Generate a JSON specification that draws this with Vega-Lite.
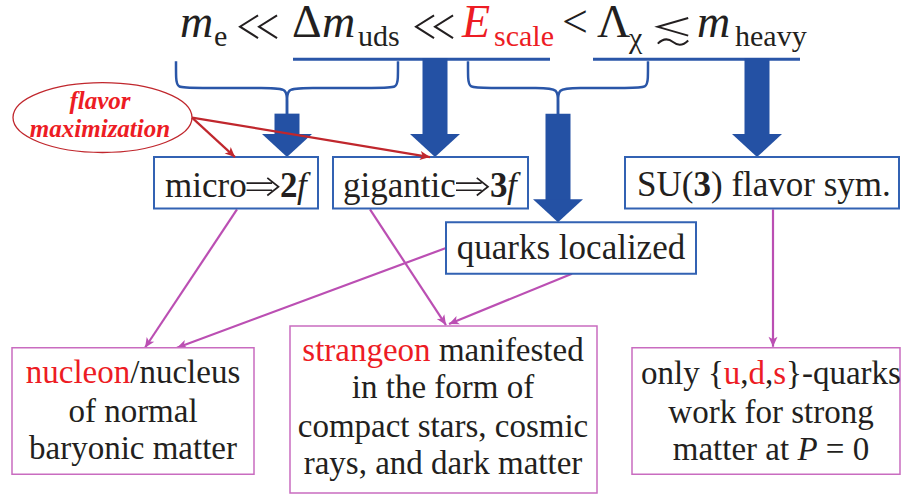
{
  "$schema": "https://vega.github.io/schema/vega-lite/v6.json",
  "width": 901,
  "height": 494,
  "autosize": {"type": "fit", "contains": "padding"},
  "padding": 0,
  "background": "white",
  "config": {"view": {"stroke": null}},
  "data": {"values": [
    {"g": "brace", "id": "b1L", "o": 1, "x": 176, "y": 60}, {"g": "brace", "id": "b1L", "o": 2, "x": 176, "y": 78}, {"g": "brace", "id": "b1L", "o": 3, "x": 177, "y": 87}, {"g": "brace", "id": "b1L", "o": 4, "x": 192, "y": 87}, {"g": "brace", "id": "b1L", "o": 5, "x": 272, "y": 87}, {"g": "brace", "id": "b1L", "o": 6, "x": 287, "y": 88}, {"g": "brace", "id": "b1L", "o": 7, "x": 287, "y": 100}, {"g": "brace", "id": "b1L", "o": 8, "x": 287, "y": 114},
    {"g": "brace", "id": "b1R", "o": 1, "x": 398, "y": 60}, {"g": "brace", "id": "b1R", "o": 2, "x": 398, "y": 78}, {"g": "brace", "id": "b1R", "o": 3, "x": 397, "y": 87}, {"g": "brace", "id": "b1R", "o": 4, "x": 382, "y": 87}, {"g": "brace", "id": "b1R", "o": 5, "x": 302, "y": 87}, {"g": "brace", "id": "b1R", "o": 6, "x": 287, "y": 88}, {"g": "brace", "id": "b1R", "o": 7, "x": 287, "y": 100}, {"g": "brace", "id": "b1R", "o": 8, "x": 287, "y": 114},
    {"g": "brace", "id": "b2L", "o": 1, "x": 468, "y": 60}, {"g": "brace", "id": "b2L", "o": 2, "x": 468, "y": 78}, {"g": "brace", "id": "b2L", "o": 3, "x": 469, "y": 87}, {"g": "brace", "id": "b2L", "o": 4, "x": 484, "y": 87}, {"g": "brace", "id": "b2L", "o": 5, "x": 543, "y": 87}, {"g": "brace", "id": "b2L", "o": 6, "x": 558, "y": 88}, {"g": "brace", "id": "b2L", "o": 7, "x": 558, "y": 100}, {"g": "brace", "id": "b2L", "o": 8, "x": 558, "y": 114},
    {"g": "brace", "id": "b2R", "o": 1, "x": 648, "y": 60}, {"g": "brace", "id": "b2R", "o": 2, "x": 648, "y": 78}, {"g": "brace", "id": "b2R", "o": 3, "x": 647, "y": 87}, {"g": "brace", "id": "b2R", "o": 4, "x": 632, "y": 87}, {"g": "brace", "id": "b2R", "o": 5, "x": 573, "y": 87}, {"g": "brace", "id": "b2R", "o": 6, "x": 558, "y": 88}, {"g": "brace", "id": "b2R", "o": 7, "x": 558, "y": 100}, {"g": "brace", "id": "b2R", "o": 8, "x": 558, "y": 114},
    {"g": "under", "x": 293, "x2": 550, "y": 58}, {"g": "under", "x": 593, "x2": 800, "y": 58},
    {"g": "shaft", "x": 287, "y": 113, "y2": 140}, {"g": "shaft", "x": 435, "y": 57, "y2": 136}, {"g": "shaft", "x": 558, "y": 113, "y2": 201}, {"g": "shaft", "x": 757, "y": 57, "y2": 135},
    {"g": "head", "x": 287, "y": 157}, {"g": "head", "x": 435, "y": 157}, {"g": "head", "x": 558, "y": 223}, {"g": "head", "x": 757, "y": 157},
    {"g": "link", "x": 237, "y": 210, "x2": 145, "y2": 350, "a": 33.3},
    {"g": "link", "x": 446, "y": 249, "x2": 177, "y2": 350, "a": 69.4},
    {"g": "link", "x": 370, "y": 210, "x2": 446, "y2": 327, "a": -33.0},
    {"g": "link", "x": 572, "y": 275, "x2": 449, "y2": 326, "a": 67.5},
    {"g": "link", "x": 773, "y": 210, "x2": 773, "y2": 349, "a": 0},
    {"g": "redlink", "x": 192, "y": 117, "x2": 235, "y2": 157, "a": -47.1},
    {"g": "redlink", "x": 192, "y": 117, "x2": 430, "y2": 157, "a": -80.5},
    {"g": "ellipse", "x": 102.5, "y": 117},
    {"g": "boxTop", "x": 154, "x2": 318, "y": 157, "y2": 209},
    {"g": "boxTop", "x": 333, "x2": 528, "y": 157, "y2": 209},
    {"g": "boxTop", "x": 446, "x2": 696, "y": 223, "y2": 275},
    {"g": "boxTop", "x": 625, "x2": 899, "y": 157, "y2": 209},
    {"g": "boxBot", "x": 12, "x2": 254, "y": 350, "y2": 478},
    {"g": "boxBot", "x": 290, "x2": 597, "y": 328, "y2": 497},
    {"g": "boxBot", "x": 632, "x2": 900, "y": 350, "y2": 478},
    {"g": "muchless", "x": 259, "y": 25}, {"g": "muchless", "x": 435, "y": 25},
    {"g": "lesssim", "x": 673, "y": 30},
    {"g": "implies", "x": 262.5, "y": 187}, {"g": "implies", "x": 472, "y": 187},
    {"g": "fUp", "t": "Δ", "x": 292, "y": 35}, {"g": "fUp", "t": "<", "x": 562, "y": 35}, {"g": "fUp", "t": "Λ", "x": 597, "y": 35},
    {"g": "fIt", "t": "m", "x": 180, "y": 35, "tone": "k"}, {"g": "fIt", "t": "m", "x": 322, "y": 35, "tone": "k"},
    {"g": "fIt", "t": "E", "x": 462, "y": 35, "tone": "r"}, {"g": "fIt", "t": "m", "x": 697, "y": 35, "tone": "k"},
    {"g": "fSub", "t": "e", "x": 214, "y": 45, "tone": "k"}, {"g": "fSub", "t": "uds", "x": 358, "y": 45, "tone": "k"},
    {"g": "fSub", "t": "scale", "x": 494, "y": 45, "tone": "r"}, {"g": "fSub", "t": "χ", "x": 629, "y": 47, "tone": "k"},
    {"g": "fSub", "t": "heavy", "x": 735, "y": 45, "tone": "k"},
    {"g": "boxUp", "t": "micro", "x": 165, "y": 197},
    {"g": "boxUp", "t": "gigantic", "x": 343, "y": 197},
    {"g": "boxUp", "t": "SU(", "x": 637, "y": 196}, {"g": "boxUp", "t": ") flavor sym.", "x": 711, "y": 196},
    {"g": "boxBold", "t": "2", "x": 280, "y": 197}, {"g": "boxBold", "t": "3", "x": 490, "y": 197}, {"g": "boxBold", "t": "3", "x": 693.4, "y": 196},
    {"g": "boxIt", "t": "f", "x": 297, "y": 197}, {"g": "boxIt", "t": "f", "x": 507, "y": 197},
    {"g": "boxCenter", "t": "quarks localized", "x": 571, "y": 260},
    {"g": "botLeft", "t": "nucleon", "x": 25.8, "y": 386, "tone": "r"}, {"g": "botLeft", "t": "/nucleus", "x": 130.3, "y": 386, "tone": "k"},
    {"g": "botLeft", "t": "strangeon", "x": 302.3, "y": 363, "tone": "r"}, {"g": "botLeft", "t": "manifested", "x": 438.9, "y": 363, "tone": "k"},
    {"g": "botLeft", "t": "only {", "x": 641, "y": 387, "tone": "k"}, {"g": "botLeft", "t": "u", "x": 723.8, "y": 387, "tone": "r"},
    {"g": "botLeft", "t": ",", "x": 740.3, "y": 387, "tone": "k"}, {"g": "botLeft", "t": "d", "x": 748.5, "y": 387, "tone": "r"},
    {"g": "botLeft", "t": ",", "x": 765, "y": 387, "tone": "k"}, {"g": "botLeft", "t": "s", "x": 773.3, "y": 387, "tone": "r"},
    {"g": "botLeft", "t": "}-quarks", "x": 786.1, "y": 387, "tone": "k"},
    {"g": "botLeft", "t": "matter at", "x": 672.8, "y": 464, "tone": "k"}, {"g": "botLeft", "t": "= 0", "x": 825.8, "y": 464, "tone": "k"},
    {"g": "botCenter", "t": "of normal", "x": 133, "y": 425}, {"g": "botCenter", "t": "baryonic matter", "x": 133, "y": 463},
    {"g": "botCenter", "t": "in the form of", "x": 443, "y": 401}, {"g": "botCenter", "t": "compact stars, cosmic", "x": 443, "y": 440},
    {"g": "botCenter", "t": "rays, and dark matter", "x": 443, "y": 478}, {"g": "botCenter", "t": "work for strong", "x": 771, "y": 426},
    {"g": "botIt", "t": "P", "x": 797.4, "y": 464},
    {"g": "oval", "t": "flavor", "x": 100, "y": 108}, {"g": "oval", "t": "maximization", "x": 100, "y": 137}
  ]},
  "layer": [
    {
      "transform": [{"filter": "datum.g == 'brace'"}],
      "mark": {"type": "line", "interpolate": "basis", "color": "#2a56a8", "strokeWidth": 2.5},
      "encoding": {
        "x": {"field": "x", "type": "quantitative", "scale": {"domain": [0, 901], "nice": false, "zero": false}, "axis": null},
        "y": {"field": "y", "type": "quantitative", "scale": {"domain": [0, 494], "reverse": true, "nice": false, "zero": false}, "axis": null},
        "detail": {"field": "id"},
        "order": {"field": "o", "type": "quantitative"}
      }
    },
    {
      "transform": [{"filter": "datum.g == 'under'"}],
      "mark": {"type": "rule", "color": "#2a56a8", "strokeWidth": 3},
      "encoding": {
        "x": {"field": "x", "type": "quantitative", "axis": null},
        "x2": {"field": "x2"},
        "y": {"field": "y", "type": "quantitative", "axis": null}
      }
    },
    {
      "transform": [{"filter": "datum.g == 'shaft'"}],
      "mark": {"type": "rule", "color": "#2451a4", "strokeWidth": 25, "strokeCap": "butt"},
      "encoding": {
        "x": {"field": "x", "type": "quantitative", "axis": null},
        "y": {"field": "y", "type": "quantitative", "axis": null},
        "y2": {"field": "y2"}
      }
    },
    {
      "transform": [{"filter": "datum.g == 'head'"}],
      "mark": {"type": "point", "shape": "M0,0 L-1,-0.92 L1,-0.92 Z", "size": 2500, "filled": true, "opacity": 1, "color": "#2451a4", "strokeWidth": 0},
      "encoding": {
        "x": {"field": "x", "type": "quantitative", "axis": null},
        "y": {"field": "y", "type": "quantitative", "axis": null}
      }
    },
    {
      "transform": [{"filter": "datum.g == 'link'"}],
      "mark": {"type": "rule", "color": "#bb4fb3", "strokeWidth": 2.2},
      "encoding": {
        "x": {"field": "x", "type": "quantitative", "axis": null},
        "y": {"field": "y", "type": "quantitative", "axis": null},
        "x2": {"field": "x2"},
        "y2": {"field": "y2"}
      }
    },
    {
      "transform": [{"filter": "datum.g == 'link'"}],
      "mark": {"type": "point", "shape": "M0,0 L-0.45,-1 L0,-0.75 L0.45,-1 Z", "size": 400, "filled": true, "opacity": 1, "color": "#bb4fb3", "strokeWidth": 0},
      "encoding": {
        "x": {"field": "x2", "type": "quantitative", "axis": null},
        "y": {"field": "y2", "type": "quantitative", "axis": null},
        "angle": {"field": "a", "type": "quantitative", "scale": null}
      }
    },
    {
      "transform": [{"filter": "datum.g == 'boxTop'"}],
      "mark": {"type": "rect", "fill": "white", "stroke": "#3262b3", "strokeWidth": 2},
      "encoding": {
        "x": {"field": "x", "type": "quantitative", "axis": null},
        "x2": {"field": "x2"},
        "y": {"field": "y", "type": "quantitative", "axis": null},
        "y2": {"field": "y2"}
      }
    },
    {
      "transform": [{"filter": "datum.g == 'boxBot'"}],
      "mark": {"type": "rect", "fill": "white", "stroke": "#c96cc0", "strokeWidth": 1.5},
      "encoding": {
        "x": {"field": "x", "type": "quantitative", "axis": null},
        "x2": {"field": "x2"},
        "y": {"field": "y", "type": "quantitative", "axis": null},
        "y2": {"field": "y2"}
      }
    },
    {
      "transform": [{"filter": "datum.g == 'redlink'"}],
      "mark": {"type": "rule", "color": "#c0272d", "strokeWidth": 2.2},
      "encoding": {
        "x": {"field": "x", "type": "quantitative", "axis": null},
        "y": {"field": "y", "type": "quantitative", "axis": null},
        "x2": {"field": "x2"},
        "y2": {"field": "y2"}
      }
    },
    {
      "transform": [{"filter": "datum.g == 'redlink'"}],
      "mark": {"type": "point", "shape": "M0,0 L-0.45,-1 L0,-0.75 L0.45,-1 Z", "size": 400, "filled": true, "opacity": 1, "color": "#c0272d", "strokeWidth": 0},
      "encoding": {
        "x": {"field": "x2", "type": "quantitative", "axis": null},
        "y": {"field": "y2", "type": "quantitative", "axis": null},
        "angle": {"field": "a", "type": "quantitative", "scale": null}
      }
    },
    {
      "transform": [{"filter": "datum.g == 'ellipse'"}],
      "mark": {"type": "point", "shape": "M-1,0 A1,0.39 0 1,1 1,0 A1,0.39 0 1,1 -1,0 Z", "size": 32041, "filled": false, "opacity": 1, "color": "#c0272d", "strokeWidth": 1.3},
      "encoding": {
        "x": {"field": "x", "type": "quantitative", "axis": null},
        "y": {"field": "y", "type": "quantitative", "axis": null}
      }
    },
    {
      "transform": [{"filter": "datum.g == 'muchless'"}],
      "mark": {"type": "point", "shape": "M-0.05,-0.6 L-1,0 L-0.05,0.6 M0.95,-0.6 L0,0 L0.95,0.6", "size": 1444, "filled": false, "opacity": 1, "color": "#231f20", "strokeWidth": 2},
      "encoding": {
        "x": {"field": "x", "type": "quantitative", "axis": null},
        "y": {"field": "y", "type": "quantitative", "axis": null}
      }
    },
    {
      "transform": [{"filter": "datum.g == 'lesssim'"}],
      "mark": {"type": "point", "shape": "M0.95,-0.85 L-0.95,-0.3 L0.95,0.25 M-0.95,0.75 C-0.55,0.35 -0.25,0.45 0,0.65 C0.25,0.85 0.55,0.95 0.95,0.55", "size": 1024, "filled": false, "opacity": 1, "color": "#231f20", "strokeWidth": 2},
      "encoding": {
        "x": {"field": "x", "type": "quantitative", "axis": null},
        "y": {"field": "y", "type": "quantitative", "axis": null}
      }
    },
    {
      "transform": [{"filter": "datum.g == 'implies'"}],
      "mark": {"type": "point", "shape": "M-1,-0.22 L0.6,-0.22 M-1,0.22 L0.6,0.22 M0.3,-0.55 L1,0 L0.3,0.55", "size": 1024, "filled": false, "opacity": 1, "color": "#231f20", "strokeWidth": 1.7},
      "encoding": {
        "x": {"field": "x", "type": "quantitative", "axis": null},
        "y": {"field": "y", "type": "quantitative", "axis": null}
      }
    },
    {
      "transform": [{"filter": "datum.g == 'fUp'"}],
      "mark": {"type": "text", "font": "Liberation Serif", "baseline": "alphabetic", "align": "left", "fontSize": 46, "color": "#231f20"},
      "encoding": {
        "x": {"field": "x", "type": "quantitative", "axis": null},
        "y": {"field": "y", "type": "quantitative", "axis": null},
        "text": {"field": "t"}
      }
    },
    {
      "transform": [{"filter": "datum.g == 'fIt'"}],
      "mark": {"type": "text", "font": "Liberation Serif", "baseline": "alphabetic", "align": "left", "fontSize": 46, "fontStyle": "italic"},
      "encoding": {
        "x": {"field": "x", "type": "quantitative", "axis": null},
        "y": {"field": "y", "type": "quantitative", "axis": null},
        "text": {"field": "t"},
        "color": {"field": "tone", "type": "nominal", "scale": {"domain": ["k", "r"], "range": ["#231f20", "#ed1c24"]}, "legend": null}
      }
    },
    {
      "transform": [{"filter": "datum.g == 'fSub'"}],
      "mark": {"type": "text", "font": "Liberation Serif", "baseline": "alphabetic", "align": "left", "fontSize": 30},
      "encoding": {
        "x": {"field": "x", "type": "quantitative", "axis": null},
        "y": {"field": "y", "type": "quantitative", "axis": null},
        "text": {"field": "t"},
        "color": {"field": "tone", "type": "nominal", "scale": {"domain": ["k", "r"], "range": ["#231f20", "#ed1c24"]}, "legend": null}
      }
    },
    {
      "transform": [{"filter": "datum.g == 'boxUp'"}],
      "mark": {"type": "text", "font": "Liberation Serif", "baseline": "alphabetic", "align": "left", "fontSize": 35, "color": "#231f20"},
      "encoding": {
        "x": {"field": "x", "type": "quantitative", "axis": null},
        "y": {"field": "y", "type": "quantitative", "axis": null},
        "text": {"field": "t"}
      }
    },
    {
      "transform": [{"filter": "datum.g == 'boxBold'"}],
      "mark": {"type": "text", "font": "Liberation Serif", "baseline": "alphabetic", "align": "left", "fontSize": 35, "fontWeight": "bold", "color": "#231f20"},
      "encoding": {
        "x": {"field": "x", "type": "quantitative", "axis": null},
        "y": {"field": "y", "type": "quantitative", "axis": null},
        "text": {"field": "t"}
      }
    },
    {
      "transform": [{"filter": "datum.g == 'boxIt'"}],
      "mark": {"type": "text", "font": "Liberation Serif", "baseline": "alphabetic", "align": "left", "fontSize": 35, "fontStyle": "italic", "color": "#231f20"},
      "encoding": {
        "x": {"field": "x", "type": "quantitative", "axis": null},
        "y": {"field": "y", "type": "quantitative", "axis": null},
        "text": {"field": "t"}
      }
    },
    {
      "transform": [{"filter": "datum.g == 'boxCenter'"}],
      "mark": {"type": "text", "font": "Liberation Serif", "baseline": "alphabetic", "align": "center", "fontSize": 35, "color": "#231f20"},
      "encoding": {
        "x": {"field": "x", "type": "quantitative", "axis": null},
        "y": {"field": "y", "type": "quantitative", "axis": null},
        "text": {"field": "t"}
      }
    },
    {
      "transform": [{"filter": "datum.g == 'botLeft'"}],
      "mark": {"type": "text", "font": "Liberation Serif", "baseline": "alphabetic", "align": "left", "fontSize": 33},
      "encoding": {
        "x": {"field": "x", "type": "quantitative", "axis": null},
        "y": {"field": "y", "type": "quantitative", "axis": null},
        "text": {"field": "t"},
        "color": {"field": "tone", "type": "nominal", "scale": {"domain": ["k", "r"], "range": ["#231f20", "#ed1c24"]}, "legend": null}
      }
    },
    {
      "transform": [{"filter": "datum.g == 'botCenter'"}],
      "mark": {"type": "text", "font": "Liberation Serif", "baseline": "alphabetic", "align": "center", "fontSize": 33, "color": "#231f20"},
      "encoding": {
        "x": {"field": "x", "type": "quantitative", "axis": null},
        "y": {"field": "y", "type": "quantitative", "axis": null},
        "text": {"field": "t"}
      }
    },
    {
      "transform": [{"filter": "datum.g == 'botIt'"}],
      "mark": {"type": "text", "font": "Liberation Serif", "baseline": "alphabetic", "align": "left", "fontSize": 33, "fontStyle": "italic", "color": "#231f20"},
      "encoding": {
        "x": {"field": "x", "type": "quantitative", "axis": null},
        "y": {"field": "y", "type": "quantitative", "axis": null},
        "text": {"field": "t"}
      }
    },
    {
      "transform": [{"filter": "datum.g == 'oval'"}],
      "mark": {"type": "text", "font": "Liberation Serif", "baseline": "alphabetic", "align": "center", "fontSize": 25, "fontStyle": "italic", "fontWeight": "bold", "color": "#ed1c24"},
      "encoding": {
        "x": {"field": "x", "type": "quantitative", "axis": null},
        "y": {"field": "y", "type": "quantitative", "axis": null},
        "text": {"field": "t"}
      }
    }
  ]
}
